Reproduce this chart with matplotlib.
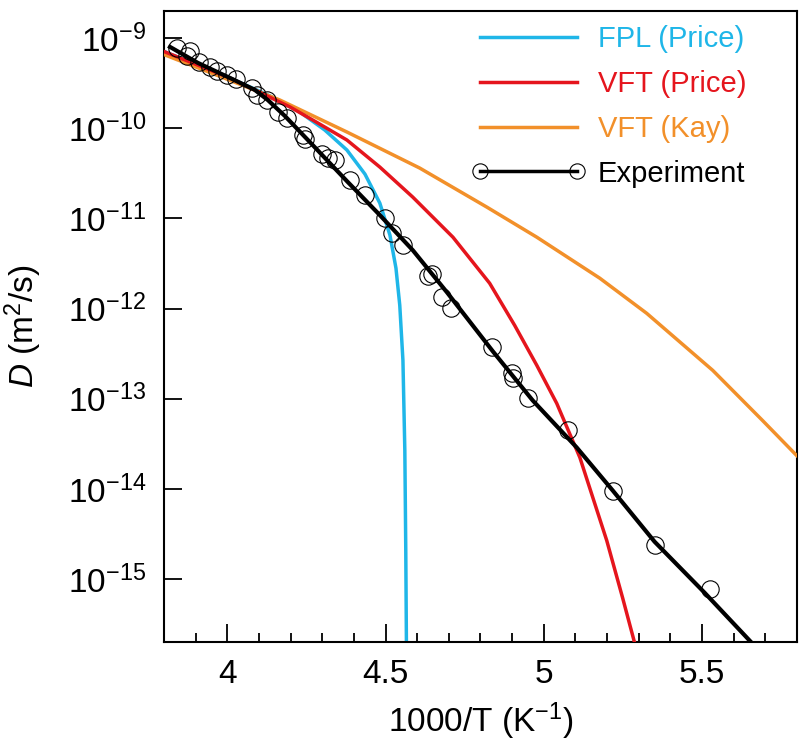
import matplotlib
matplotlib.use('Agg')
import matplotlib.pyplot as plt
import numpy as np
from matplotlib.lines import Line2D
from matplotlib.ticker import MultipleLocator, NullLocator

plt.rcParams['font.family'] = ['Liberation Sans', 'DejaVu Sans']
plt.rcParams['mathtext.fontset'] = 'custom'
plt.rcParams['mathtext.rm'] = 'Liberation Sans'
plt.rcParams['mathtext.it'] = 'Liberation Sans:italic'

# experiment points, 1000/T and log10(D)
exp_x = [3.841, 3.882, 3.873, 3.911, 3.945, 3.967, 3.999, 4.027, 4.078, 4.094,
         4.125, 4.160, 4.188, 4.239, 4.245, 4.299, 4.318, 4.340, 4.387, 4.435,
         4.498, 4.520, 4.555, 4.634, 4.646, 4.678, 4.706, 4.836, 4.899, 4.902,
         4.949, 5.076, 5.218, 5.350, 5.524]
exp_logD = [-9.108, -9.141, -9.197, -9.263, -9.319, -9.363, -9.408, -9.452, -9.552, -9.630,
            -9.686, -9.819, -9.886, -10.074, -10.119, -10.286, -10.330, -10.352, -10.574, -10.741,
            -10.997, -11.163, -11.297, -11.641, -11.619, -11.874, -11.997, -12.430, -12.719, -12.774,
            -12.997, -13.352, -14.027, -14.619, -15.108]

# fitted curve through the experiment
fit_x = [3.819, 3.907, 4.015, 4.087, 4.128, 4.182, 4.270, 4.378, 4.482, 4.586,
         4.694, 4.839, 4.965, 5.104, 5.218, 5.350, 5.508, 5.657]
fit_logD = [-9.097, -9.274, -9.452, -9.574, -9.686, -9.863, -10.186, -10.586, -10.963, -11.352,
            -11.819, -12.474, -13.019, -13.541, -14.019, -14.586, -15.152, -15.708]

# FPL (Price)
fpl_x = [3.803, 4.008, 4.135, 4.229, 4.308, 4.378, 4.435, 4.482, 4.514, 4.533,
         4.545, 4.555, 4.561, 4.564, 4.566]
fpl_logD = [-9.152, -9.441, -9.641, -9.819, -10.019, -10.241, -10.508, -10.830, -11.186, -11.552,
            -11.963, -12.574, -13.574, -14.686, -15.708]

# VFT (Price)
vftp_x = [3.803, 4.008, 4.198, 4.270, 4.378, 4.482, 4.586, 4.713, 4.829, 4.908,
          4.978, 5.041, 5.114, 5.155, 5.199, 5.249, 5.287]
vftp_logD = [-9.152, -9.441, -9.763, -9.908, -10.130, -10.430, -10.763, -11.208, -11.719, -12.186,
             -12.630, -13.052, -13.652, -14.097, -14.574, -15.208, -15.708]

# VFT (Kay)
vftk_x = [3.803, 3.977, 4.166, 4.378, 4.608, 4.820, 4.978, 5.177, 5.325, 5.534,
          5.691, 5.799]
vftk_logD = [-9.186, -9.424, -9.686, -10.041, -10.441, -10.874, -11.208, -11.663, -12.052, -12.686,
             -13.241, -13.630]

yticks = [1e-9, 1e-10, 1e-11, 1e-12, 1e-13, 1e-14, 1e-15]
ytick_labels = [r'$\mathregular{10^{-%d}}$' % n for n in range(9, 16)]
xticks = [4, 4.5, 5, 5.5]
xtick_labels = ['4', '4.5', '5', '5.5']

c_blue = '#1fb6e8'
c_red = '#e5151d'
c_orange = '#f2902a'

fig = plt.figure(figsize=(8.03, 7.56), dpi=100)
ax = fig.add_axes([0.2042, 0.1508, 0.7883, 0.8346])

p = lambda v: 10.0 ** np.array(v)
l1, = ax.plot(fpl_x, p(fpl_logD), color=c_blue, lw=2.5, label='FPL (Price)', zorder=2)
l3, = ax.plot(vftk_x, p(vftk_logD), color=c_orange, lw=2.5, label='VFT (Kay)', zorder=3)
l2, = ax.plot(vftp_x, p(vftp_logD), color=c_red, lw=2.5, label='VFT (Price)', zorder=4)
ax.plot(fit_x, p(fit_logD), color='k', lw=3.0, zorder=5)
ax.plot(exp_x, p(exp_logD), ls='none', marker='o', ms=12.5, mfc='none', mec='k', mew=0.8, zorder=6)

ax.set_yscale('log')
ax.set_xlim(3.8, 5.8)
ax.set_ylim(2e-16, 2e-9)
ax.set_yticks(yticks)
ax.set_yticklabels(ytick_labels)
ax.yaxis.set_minor_locator(NullLocator())
ax.set_xticks(xticks)
ax.set_xticklabels(xtick_labels)
ax.xaxis.set_minor_locator(MultipleLocator(0.1))

ax.tick_params(which='both', direction='in', width=1.3, labelsize=24)
ax.tick_params(axis='y', which='major', length=13, pad=13)
ax.tick_params(axis='x', which='major', length=13, pad=12)
ax.tick_params(axis='x', which='minor', length=6.5)
for s in ax.spines.values():
    s.set_linewidth(1.5)

ax.set_xlabel(r'1000/T (K$\mathregular{^{-1}}$)', fontsize=24, labelpad=8)
ax.set_ylabel(r'$\mathit{D}$ (m$\mathregular{^2}$/s)', fontsize=24)
ax.yaxis.set_label_coords(-0.19, 0.5)

exp_handle = Line2D([], [], color='k', lw=2.5, marker='o', ms=11, mfc='none', mec='k', mew=0.8)
ax.legend([l1, l2, l3, exp_handle], ['FPL (Price)', 'VFT (Price)', 'VFT (Kay)', 'Experiment'],
          loc='upper left', bbox_to_anchor=(0.485, 0.978), frameon=False, fontsize=21,
          handlelength=3.94, handletextpad=0.41, labelspacing=0.58, numpoints=2,
          borderpad=0, borderaxespad=0, labelcolor='linecolor')

fig.savefig('out.png', dpi=100)
